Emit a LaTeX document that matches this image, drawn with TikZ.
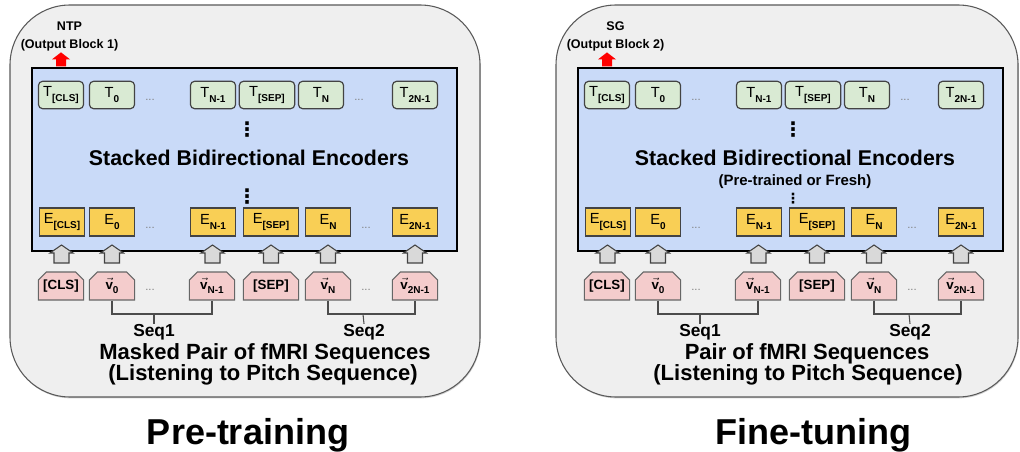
\documentclass[tikz,border=0pt]{standalone}
\usepackage{fontspec}
\setmainfont{Liberation Sans}
\newfontfamily\dotsfont{DejaVu Sans}
\usetikzlibrary{shapes.misc,shadows}

\definecolor{panelgray}{HTML}{EFEFEF}
\definecolor{encblue}{HTML}{C9DAF8}
\definecolor{tgreen}{HTML}{D9EAD3}
\definecolor{eyellow}{HTML}{F9CF55}
\definecolor{vpink}{HTML}{F4CCCC}
\definecolor{arrgray}{HTML}{D9D9D9}
\definecolor{linegray}{HTML}{434343}

\newcommand{\tok}[2]{#1\raisebox{-0.65ex}{\fontsize{7.5}{8}\selectfont\bfseries #2}}
\newcommand{\vecv}{$\vec{\mbox{v}}$}

\tikzset{
 panel/.style={draw=black!65, fill=panelgray, rounded corners=45pt, line width=0.8pt,
   drop shadow={shadow xshift=0.5pt, shadow yshift=-1pt, opacity=0.35}},
 encoder/.style={draw=black, fill=encblue, line width=1.6pt},
 tbox/.style={draw=linegray, fill=tgreen, rounded corners=3pt, line width=0.9pt,
   minimum width=33.75pt, minimum height=20.5pt, inner sep=1pt, font=\fontsize{11}{12}\selectfont},
 ebox/.style={draw=linegray, fill=eyellow, line width=0.8pt,
   minimum width=34pt, minimum height=21pt, inner sep=1pt, font=\fontsize{11}{12}\selectfont},
 vbox/.style={chamfered rectangle, chamfered rectangle corners={north west, north east},
   chamfered rectangle xsep=2.5pt, draw=black!60, fill=vpink, line width=0.8pt,
   minimum width=34pt, minimum height=21pt, inner sep=1pt, font=\fontsize{10}{12}\selectfont\bfseries},
 wide/.style={minimum width=41.5pt},
 gap/.style={text=black!50, font=\fontsize{8.5}{8}\selectfont, inner sep=0pt},
 vdots/.style={font=\dotsfont\bfseries\fontsize{15}{15}\selectfont, inner sep=0pt},
 shortdots/.style={font=\dotsfont\bfseries\fontsize{10.5}{11}\selectfont, inner sep=0pt},
 bracket/.style={draw=black!70, line width=0.8pt},
 heading/.style={font=\fontsize{16}{18}\selectfont\bfseries, inner sep=0pt},
 caption/.style={font=\fontsize{16.5}{18}\selectfont\bfseries, inner sep=0pt},
 seq/.style={font=\fontsize{13}{14}\selectfont\bfseries, inner sep=0pt},
 sublabel/.style={font=\fontsize{11.2}{12}\selectfont\bfseries, inner sep=0pt},
 outlabel/.style={font=\fontsize{9.4}{13}\selectfont\bfseries, inner sep=0pt, align=center},
 stage/.style={font=\fontsize{27}{30}\selectfont\bfseries, inner sep=0pt},
 uparr/.pic={\draw[draw=linegray, fill=arrgray, line width=0.8pt]
   (-7.5,9) -- (-7.5,-1) -- (-11.5,-1) -- (0,-9) -- (11.5,-1) -- (7.5,-1) -- (7.5,9) -- cycle;},
 outarr/.pic={\fill[red] (-5,7) -- (-5,0) -- (-9,0) -- (0,-7) -- (9,0) -- (5,0) -- (5,7) -- cycle;}
}

\begin{document}
\begin{tikzpicture}[x=0.75pt, y=-0.75pt]
 \useasboundingbox (0,0) rectangle (1020,452);

 \draw[panel] (10,5) rectangle (480,397);
 \draw[encoder] (32,68) rectangle (457,251);
 \node[outlabel] (pOut) at (69.5,36.5) {NTP\\(Output Block 1)};

 \node[tbox] (pTcls) at (61,95) {\tok{T}{[CLS]}};
 \node[tbox] (pT0) at (112,95) {\tok{T}{0}};
 \node[gap] (pTd1) at (150,100) {...};
 \node[tbox] (pTn1) at (213,95) {\tok{T}{N-1}};
 \node[tbox, wide] (pTsep) at (267,95) {\tok{T}{[SEP]}};
 \node[tbox] (pTn) at (321,95) {\tok{T}{N}};
 \node[gap] (pTd2) at (359,100) {...};
 \node[tbox] (pT2n) at (415,95) {\tok{T}{2N-1}};
 \node[vdots] (pDots1) at (247,129.5) {⋮};
 \node[heading] (pEnc) at (249,158) {Stacked Bidirectional Encoders};
 \node[vdots] (pDots2) at (247,197) {⋮};

 \node[ebox] (pEcls) at (62,222) {\tok{E}{[CLS]}};
 \node[ebox] (pE0) at (112,222) {\tok{E}{0}};
 \node[gap] (pEd1) at (150,228) {...};
 \node[ebox] (pEn1) at (213,222) {\tok{E}{N-1}};
 \node[ebox, wide] (pEsep) at (271,222) {\tok{E}{[SEP]}};
 \node[ebox] (pEn) at (328,222) {\tok{E}{N}};
 \node[gap] (pEd2) at (366,228) {...};
 \node[ebox] (pE2n) at (415,222) {\tok{E}{2N-1}};

 \node[vbox] (pVcls) at (61,286) {[CLS]};
 \node[vbox] (pV0) at (112,286) {\tok{\vecv}{0}};
 \node[gap] (pVd1) at (150,290) {...};
 \node[vbox] (pVn1) at (212,286) {\tok{\vecv}{N-1}};
 \node[vbox, wide] (pVsep) at (271,286) {[SEP]};
 \node[vbox] (pVn) at (328,286) {\tok{\vecv}{N}};
 \node[gap] (pVd2) at (366,290) {...};
 \node[vbox] (pV2n) at (415,286) {\tok{\vecv}{2N-1}};

 \path (pTcls.north) -- (pTcls.north |- pOut.south) pic[pos=0.72]{outarr};
 \path (pVcls.north) -- (pEcls.south) pic[pos=0.5]{uparr};
 \path (pV0.north) -- (pE0.south) pic[pos=0.5]{uparr};
 \path (pVn1.north) -- (pEn1.south) pic[pos=0.5]{uparr};
 \path (pVsep.north) -- (pEsep.south) pic[pos=0.5]{uparr};
 \path (pVn.north) -- (pEn.south) pic[pos=0.5]{uparr};
 \path (pV2n.north) -- (pE2n.south) pic[pos=0.5]{uparr};

 \node[seq] (pSeq1) at (154,332) {Seq1};
 \node[seq] (pSeq2) at (364,332) {Seq2};
 \coordinate (pJ1) at (154,314);
 \coordinate (pJ2) at (363,314);
 \draw[bracket] (pV0.south) |- (pJ1) -| (pVn1.south);
 \draw[bracket] (pJ1) -- (pSeq1.north);
 \draw[bracket] (pVn.south) |- (pJ2) -| (pV2n.south);
 \draw[bracket] (pJ2) -- (pSeq2.north);
 \node[caption] (pCap1) at (265,354) {Masked Pair of fMRI Sequences};
 \node[caption] (pCap2) at (263,375) {(Listening to Pitch Sequence)};
 \node[stage] (pStage) at (248,435) {Pre-training};

 \draw[panel] (556,5) rectangle (1018,397);
 \draw[encoder] (578,68) rectangle (1003,251);
 \node[outlabel] (fOut) at (615.5,36.5) {SG\\(Output Block 2)};

 \node[tbox] (fTcls) at (607,95) {\tok{T}{[CLS]}};
 \node[tbox] (fT0) at (658,95) {\tok{T}{0}};
 \node[gap] (fTd1) at (696,100) {...};
 \node[tbox] (fTn1) at (759,95) {\tok{T}{N-1}};
 \node[tbox, wide] (fTsep) at (813,95) {\tok{T}{[SEP]}};
 \node[tbox] (fTn) at (867,95) {\tok{T}{N}};
 \node[gap] (fTd2) at (905,100) {...};
 \node[tbox] (fT2n) at (961,95) {\tok{T}{2N-1}};
 \node[vdots] (fDots1) at (793,129.5) {⋮};
 \node[heading] (fEnc) at (795,158) {Stacked Bidirectional Encoders};
 \node[sublabel] (fSub) at (795,182) {(Pre-trained or Fresh)};
 \node[shortdots] (fDots2) at (793,198.5) {⋮};

 \node[ebox] (fEcls) at (608,222) {\tok{E}{[CLS]}};
 \node[ebox] (fE0) at (658,222) {\tok{E}{0}};
 \node[gap] (fEd1) at (696,228) {...};
 \node[ebox] (fEn1) at (759,222) {\tok{E}{N-1}};
 \node[ebox, wide] (fEsep) at (817,222) {\tok{E}{[SEP]}};
 \node[ebox] (fEn) at (874,222) {\tok{E}{N}};
 \node[gap] (fEd2) at (912,228) {...};
 \node[ebox] (fE2n) at (961,222) {\tok{E}{2N-1}};

 \node[vbox] (fVcls) at (607,286) {[CLS]};
 \node[vbox] (fV0) at (658,286) {\tok{\vecv}{0}};
 \node[gap] (fVd1) at (696,290) {...};
 \node[vbox] (fVn1) at (758,286) {\tok{\vecv}{N-1}};
 \node[vbox, wide] (fVsep) at (817,286) {[SEP]};
 \node[vbox] (fVn) at (874,286) {\tok{\vecv}{N}};
 \node[gap] (fVd2) at (912,290) {...};
 \node[vbox] (fV2n) at (961,286) {\tok{\vecv}{2N-1}};

 \path (fTcls.north) -- (fTcls.north |- fOut.south) pic[pos=0.72]{outarr};
 \path (fVcls.north) -- (fEcls.south) pic[pos=0.5]{uparr};
 \path (fV0.north) -- (fE0.south) pic[pos=0.5]{uparr};
 \path (fVn1.north) -- (fEn1.south) pic[pos=0.5]{uparr};
 \path (fVsep.north) -- (fEsep.south) pic[pos=0.5]{uparr};
 \path (fVn.north) -- (fEn.south) pic[pos=0.5]{uparr};
 \path (fV2n.north) -- (fE2n.south) pic[pos=0.5]{uparr};

 \node[seq] (fSeq1) at (700,332) {Seq1};
 \node[seq] (fSeq2) at (910,332) {Seq2};
 \coordinate (fJ1) at (700,314);
 \coordinate (fJ2) at (909,314);
 \draw[bracket] (fV0.south) |- (fJ1) -| (fVn1.south);
 \draw[bracket] (fJ1) -- (fSeq1.north);
 \draw[bracket] (fVn.south) |- (fJ2) -| (fV2n.south);
 \draw[bracket] (fJ2) -- (fSeq2.north);
 \node[caption] (fCap1) at (807,354) {Pair of fMRI Sequences};
 \node[caption] (fCap2) at (808,375) {(Listening to Pitch Sequence)};
 \node[stage] (fStage) at (813,435) {Fine-tuning};
\end{tikzpicture}
\end{document}
